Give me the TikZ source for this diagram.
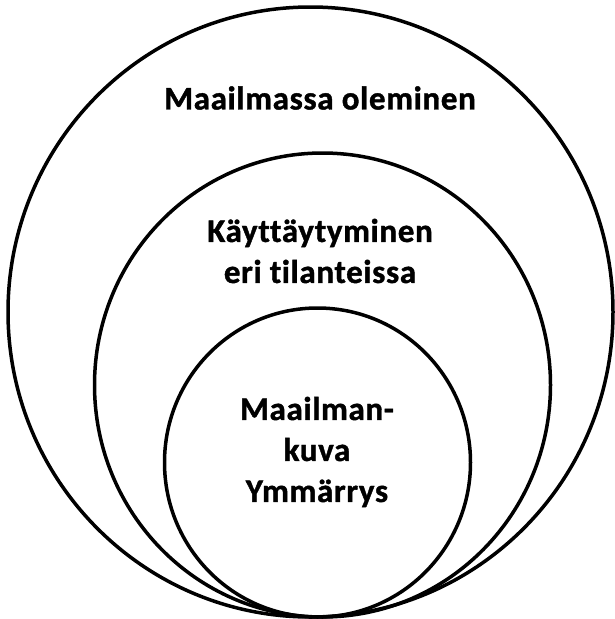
\documentclass[tikz,border=0pt]{standalone}
\usepackage{fontspec}
\setmainfont{Carlito}[Ligatures=NoCommon,LetterSpace=2,BoldFeatures={FakeBold=1.2}]
\begin{document}
\begin{tikzpicture}[x=1pt,y=-1pt,
  ring/.style={draw=black,line width=3.5pt},
  lbl/.style={font=\bfseries\fontsize{33}{41}\selectfont,align=center,inner sep=0pt}]
\useasboundingbox (0,0) rectangle (615,619);
\draw[ring] (310.5,312) ellipse [x radius=302.5,y radius=305];
\draw[ring] (322.5,385) ellipse [x radius=228,y radius=232];
\draw[ring] (317.5,462.5) ellipse [x radius=153,y radius=154.5];
\node[lbl] (outer) at (320,98) {Maailmassa oleminen};
\node[lbl] (middle) at (320,251) {Käyttäytyminen\\eri tilanteissa};
\node[lbl] (inner) at (317,452) {Maailman-\\kuva\\Ymmärrys};
\end{tikzpicture}
\end{document}
